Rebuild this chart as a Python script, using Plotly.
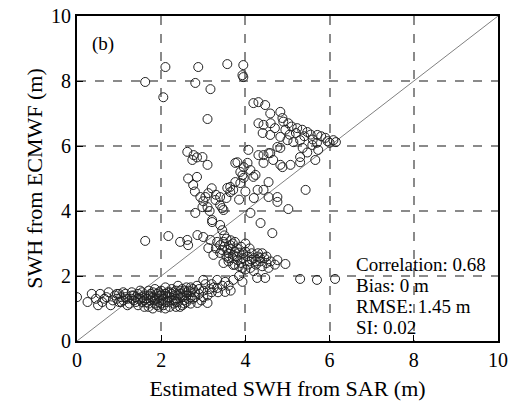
import plotly.graph_objects as go

# ---- data ----
low_x = [0.0,0.25,0.35,0.45,0.55,0.6,0.7,0.75,0.8,0.85,0.9,0.95,1.0,1.0,1.05,1.1,1.15,1.2,1.25,1.3,1.3,1.35,1.4,1.45,1.45,1.5,1.55,1.55,1.6,1.6,1.65,1.7,1.7,1.75,1.75,1.8,1.8,1.85,1.85,1.9,1.9,1.95,1.95,2.0,2.0,2.05,2.05,2.1,2.1,2.15,2.15,2.2,2.2,2.25,2.25,2.3,2.3,2.35,2.35,2.4,2.4,2.45,2.5,2.5,2.55,2.55,2.6,2.6,2.65,2.7,2.7,2.75,2.8,2.85,2.9,2.95,3.0,3.05,3.1,3.15,3.25,3.35,3.45,2.86,3.1,0.5,0.65,1.1,1.2,1.4,1.5,1.65,1.9,2.0,2.1,2.3,2.45,2.65,2.75,1.35,1.55,1.75,1.85,1.95,2.15,2.35,2.5,2.6,2.8]
low_y = [1.35,1.2,1.45,1.3,1.45,1.2,1.35,1.5,1.1,1.25,1.4,1.3,1.45,1.2,1.35,1.25,1.45,1.3,1.15,1.4,1.5,1.25,1.35,1.1,1.45,1.3,1.2,1.5,1.4,1.05,1.3,1.15,1.55,1.25,1.45,1.0,1.35,1.6,1.15,1.3,1.45,1.05,1.2,1.4,1.55,1.3,1.1,1.45,1.65,1.2,1.35,1.5,1.05,1.25,1.6,1.4,1.15,1.3,1.55,1.7,1.2,1.45,1.35,1.1,1.55,1.25,1.4,1.65,1.3,1.5,1.15,1.6,1.35,1.7,1.45,1.25,1.55,1.75,1.4,1.6,1.65,1.5,1.7,1.17,1.17,1.1,1.3,1.5,1.1,1.2,1.55,1.2,1.1,1.25,1.0,1.5,1.05,1.55,1.3,1.4,1.35,1.35,1.25,1.4,1.5,1.2,1.6,1.2,1.5]

low2_x = [1.45,1.6,1.7,1.8,1.85,1.95,2.05,2.1,2.2,2.25,2.3,2.4,2.45,2.55,2.6,2.7,2.7,2.9,3.0,3.2,1.3,1.15,1.05,0.95,2.0,1.7,2.35,2.55]
low2_y = [1.3,1.25,1.4,1.5,1.3,1.5,1.4,1.2,1.35,1.45,1.25,1.4,1.55,1.4,1.5,1.35,1.65,1.6,1.35,1.5,1.3,1.35,1.2,1.45,1.15,1.05,1.05,1.15]

flat_x = [3.0,3.33,3.52,3.71,3.52,3.33,3.6,3.93,3.2,3.65,3.85,4.28,4.47,5.3,5.7,6.13]
flat_y = [1.88,1.88,1.82,1.88,1.51,1.63,1.7,1.82,1.75,1.55,2.0,1.94,1.94,1.91,1.88,1.91]

mid_x = [1.62,2.17,2.45,2.62,2.64,2.86,3.0,3.21,3.4,3.45,3.17,3.12,3.24,3.33,3.48,3.64,3.57,3.4,3.71,3.85,3.81,3.95,3.48,3.71,3.93,4.0,3.55,3.7,3.8,3.9,4.0,4.05,4.1,4.15,4.2,4.25,4.3,4.35,4.4,4.45,4.5,4.55,4.6,4.7,4.76,4.95,4.12,3.6,3.75,3.65,3.5,4.0,4.1,3.9,3.8,4.2,3.4,3.3,3.6,4.3,4.5,4.64,4.36,4.12,5.02,4.76,4.55,5.43,4.55,4.29,4.43,3.21,
         3.6,3.7,3.75,3.85,3.95,4.05,4.15,4.25,4.35,4.4,3.55,3.45,3.65,3.75,3.5]
mid_y = [3.08,3.23,3.05,3.11,2.95,3.26,3.2,3.66,3.57,3.41,3.11,2.86,2.65,3.05,3.05,2.95,2.8,2.71,2.65,2.72,2.49,2.55,2.4,2.34,2.25,2.2,3.15,3.0,2.85,2.9,2.75,2.6,2.45,2.7,2.55,2.35,2.6,2.45,2.3,2.55,2.4,2.25,2.45,2.35,2.49,2.37,2.25,2.55,2.75,3.1,2.9,3.0,2.85,2.4,2.6,2.15,2.95,2.85,2.7,2.7,2.6,3.32,3.63,3.94,4.06,4.28,4.43,4.65,4.89,4.65,4.65,3.72,
         2.45,2.55,2.35,2.3,2.7,2.35,2.5,2.45,2.55,2.7,2.6,2.8,2.85,3.05,3.25]

up_x = [2.62,2.77,2.74,2.85,2.98,3.1,2.64,2.85,2.76,2.8,2.93,2.81,2.98,3.12,3.29,3.4,3.48,3.45,3.64,3.71,3.88,3.93,4.19,3.4,3.57,3.64,3.76,3.96,4.24,4.12,3.88,3.76,4.05,4.43,4.83,5.07,5.3,4.07,3.81,3.96,4.31,4.55,4.59,4.43,4.66,4.88,4.76,4.83,5.66,5.73,5.3,5.36,5.59,5.47,3.05,3.1,3.0,3.2,3.3,3.55,3.15,4.76,4.2,4.0,3.85]
up_y = [5.82,5.72,5.57,5.65,5.66,5.42,5.0,5.05,4.8,4.6,4.43,3.94,4.12,4.55,4.34,4.18,4.03,4.09,4.74,4.65,4.86,5.1,5.05,4.43,4.71,4.58,4.89,5.02,5.11,5.26,5.2,5.48,5.48,5.48,5.42,5.42,5.5,5.88,5.5,5.35,5.72,5.78,5.78,5.72,5.57,5.35,5.97,5.94,5.57,5.88,5.66,5.94,6.03,5.8,4.43,4.12,4.3,4.7,4.5,4.4,4.0,4.43,4.4,4.6,4.35]

band_x = [4.19,4.31,4.47,4.59,4.83,4.88,5.02,5.23,5.47,5.71,5.9,6.09,6.15,4.31,4.43,4.41,4.59,4.7,4.83,5.0,5.14,5.3,5.1,5.2,5.35,5.4,5.55,5.6,5.8,5.95,4.95,5.05,4.6,4.9,5.7,6.0]
band_y = [7.32,7.35,7.26,7.0,7.05,6.86,6.7,6.55,6.43,6.34,6.25,6.18,6.12,6.7,6.65,6.4,6.34,6.55,6.28,6.18,6.12,6.18,6.6,6.4,6.5,6.3,6.35,6.2,6.3,6.15,6.5,6.35,6.7,6.75,6.1,6.1]

top_x = [1.62,2.1,2.05,2.88,2.81,3.17,3.57,3.95,3.93,3.95,3.1]
top_y = [7.97,8.43,7.5,8.43,7.94,7.75,8.52,8.49,8.18,8.12,6.83]

stats_lines = ["Correlation: 0.68", "Bias: 0 m", "RMSE: 1.45 m", "SI: 0.02"]
tick_vals = [0, 2, 4, 6, 8, 10]

xs = low_x + low2_x + flat_x + mid_x + up_x + band_x + top_x
ys = low_y + low2_y + flat_y + mid_y + up_y + band_y + top_y

FONT = "Liberation Serif"

fig = go.Figure()
fig.add_trace(go.Scatter(x=[0, 10], y=[0, 10], mode="lines",
                         line=dict(color="#808080", width=1), hoverinfo="skip"))
fig.add_trace(go.Scatter(x=xs, y=ys, mode="markers",
                         marker=dict(symbol="circle-open", size=9,
                                     color="#222222", line=dict(width=1))))

for i, t in enumerate(stats_lines):
    fig.add_annotation(x=6.57, y=2.35 - i * 0.64, text=t, showarrow=False,
                       xanchor="left", yanchor="middle",
                       font=dict(family=FONT, size=19, color="black"))
fig.add_annotation(x=0.3, y=9.15, text="(b)", showarrow=False,
                   xanchor="left", yanchor="middle",
                   font=dict(family=FONT, size=19, color="black"))

axis_common = dict(range=[0, 10], tickvals=tick_vals, showgrid=True,
                   gridcolor="#8a8a8a", gridwidth=1.5, griddash="dash",
                   zeroline=False, showline=True, linecolor="black",
                   linewidth=2, mirror=True, ticks="inside", ticklen=6,
                   tickcolor="black", tickwidth=1, automargin=False,
                   tickfont=dict(family=FONT, size=20, color="black"))

fig.update_xaxes(**axis_common,
                 title=dict(text="Estimated SWH from SAR (m)",
                            font=dict(family=FONT, size=22, color="black"),
                            standoff=15))
fig.update_yaxes(**axis_common,
                 title=dict(text="SWH from ECMWF (m)",
                            font=dict(family=FONT, size=22, color="black"),
                            standoff=2))

fig.update_layout(width=512, height=401, showlegend=False,
                  plot_bgcolor="white", paper_bgcolor="white",
                  margin=dict(l=77, r=14, t=16, b=60))

fig.write_html("out.html")
